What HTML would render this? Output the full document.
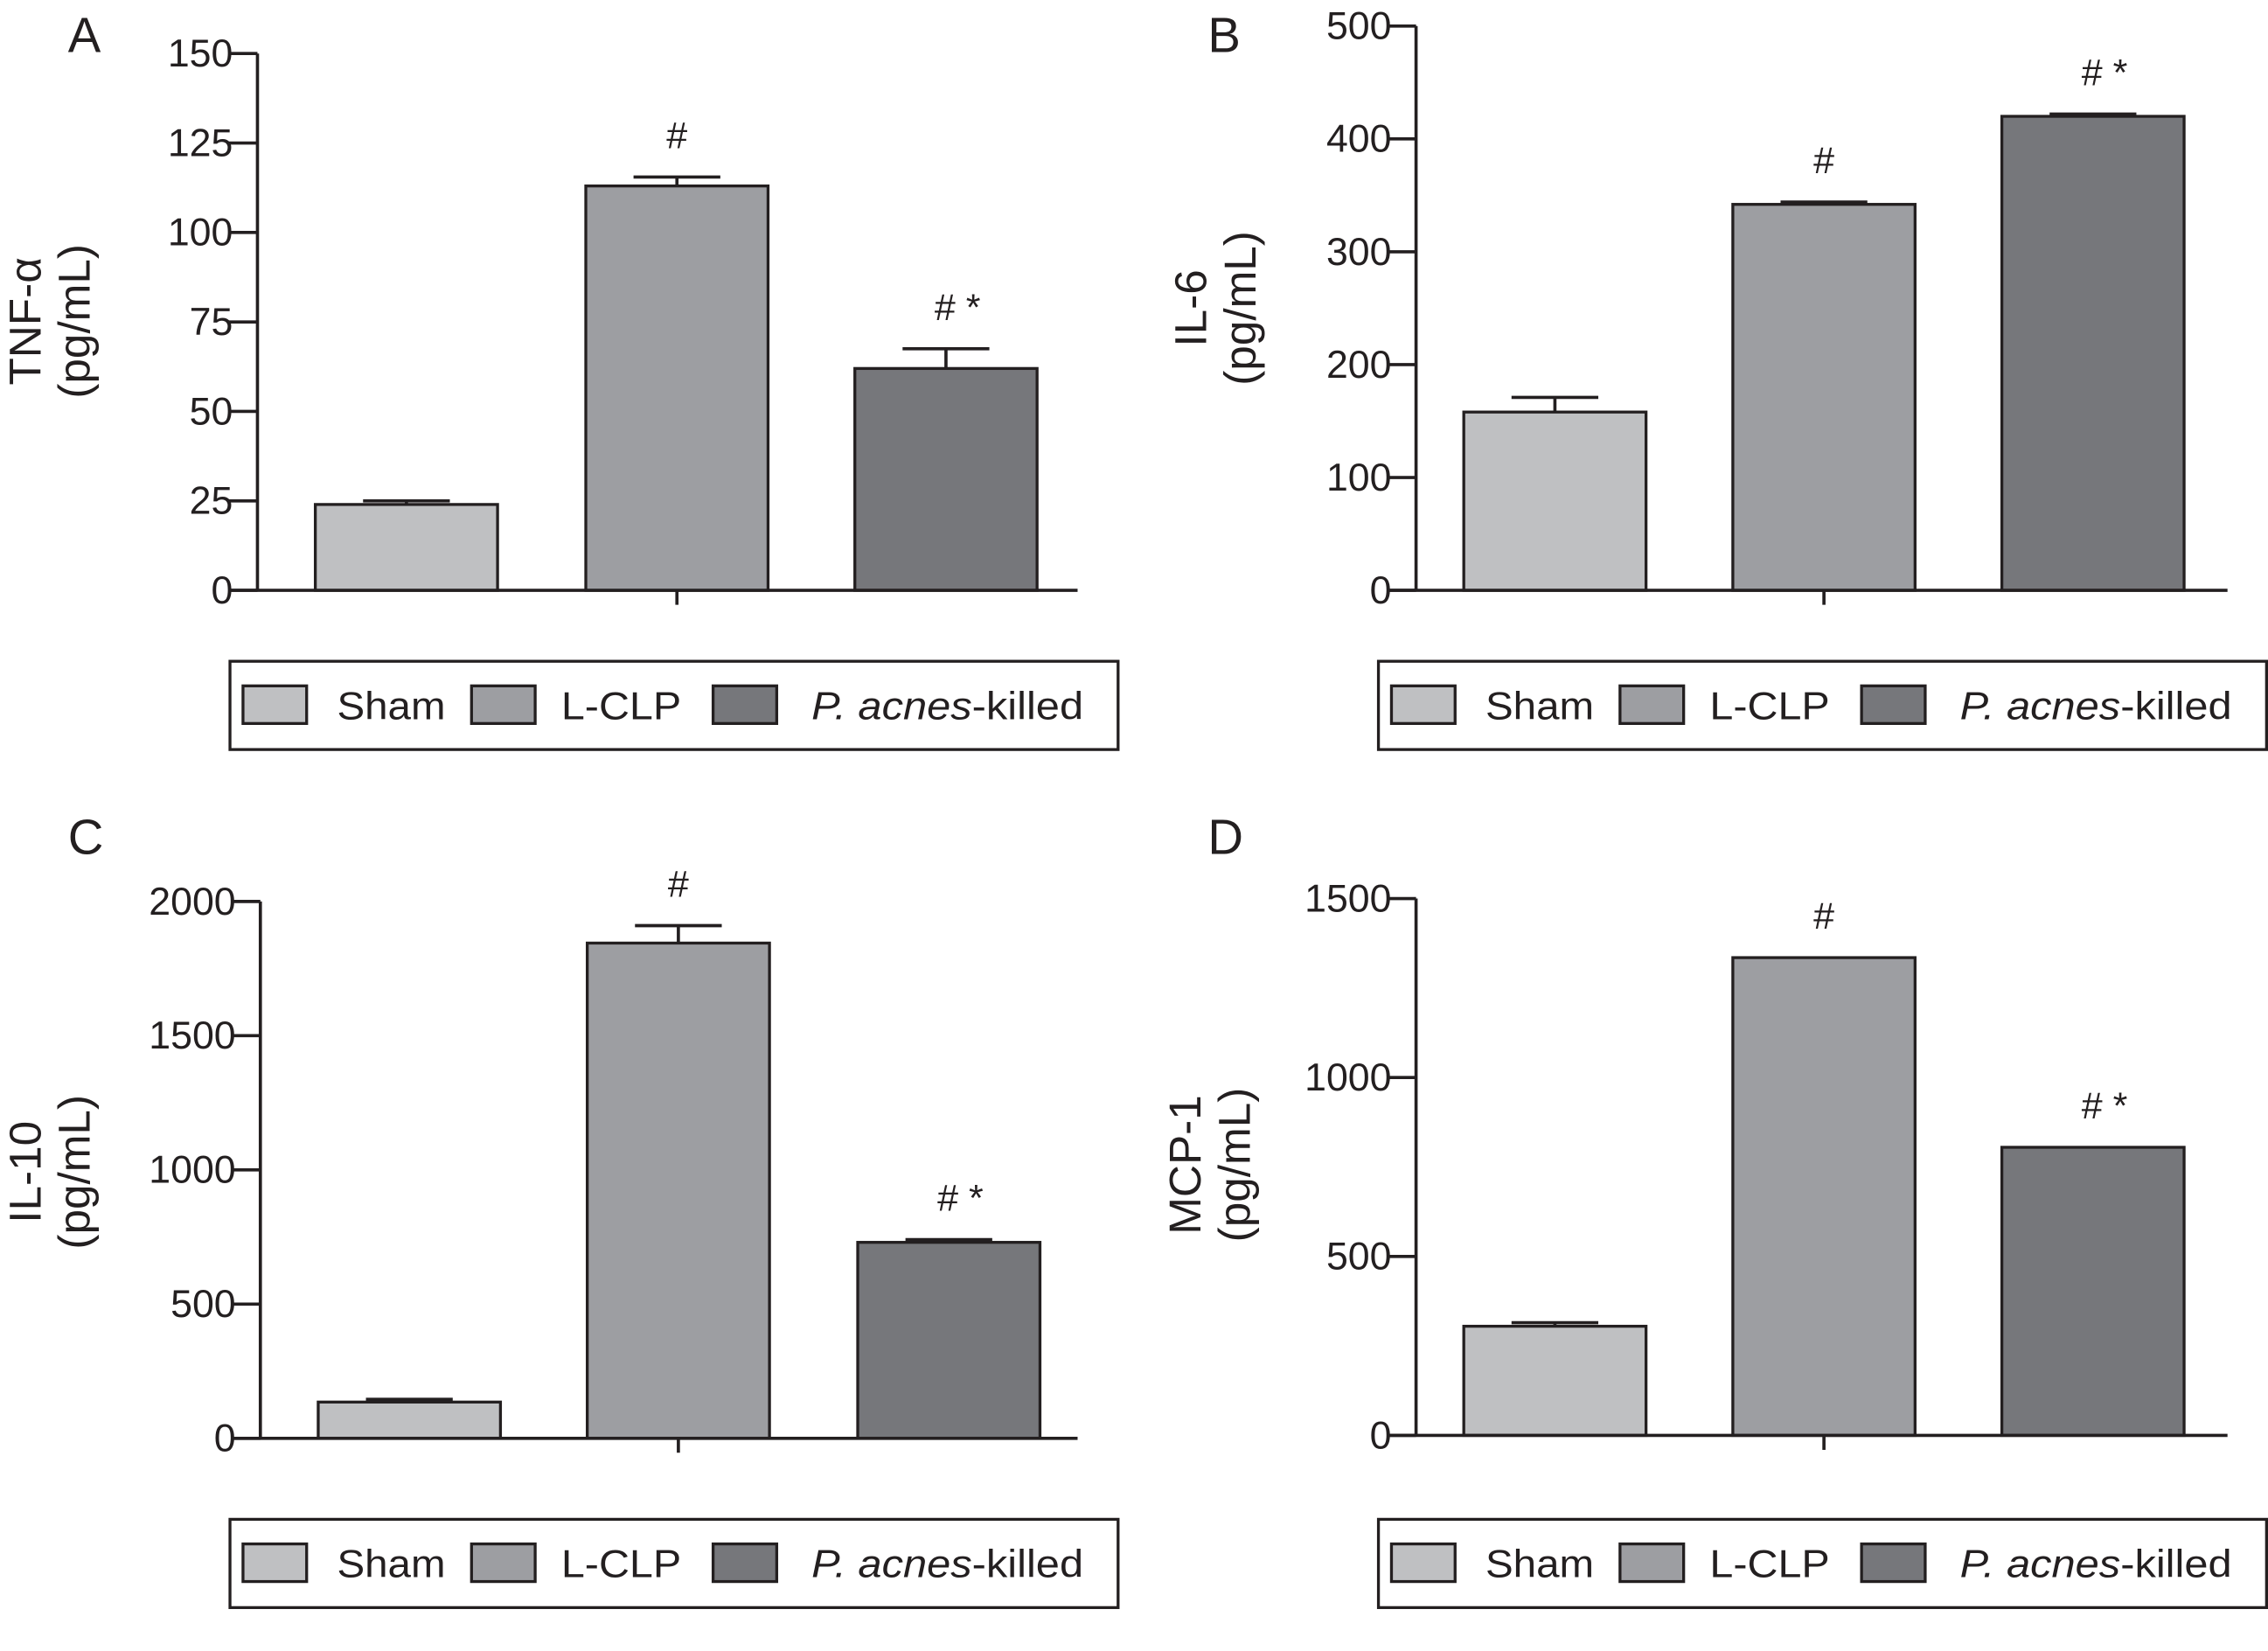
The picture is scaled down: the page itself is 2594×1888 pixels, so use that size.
<!DOCTYPE html>
<html><head><meta charset="utf-8"><style>
html,body{margin:0;padding:0;background:#fff;}
svg{display:block;font-family:"Liberation Sans",sans-serif;}
</style></head><body>
<svg id="fig" width="2594" height="1888" viewBox="0 0 1568 1141" preserveAspectRatio="none" xmlns="http://www.w3.org/2000/svg"></svg>
<script>
const categories = ["Sham", "L-CLP", "P. acnes-killed"];
const colors = ["#bfc0c2", "#9d9ea2", "#76777b"];
const tnfValues = [24, 113, 62];
const tnfErrors = [25, 115.5, 67.5];
const tnfTicks = [0, 25, 50, 75, 100, 125, 150];
const il6Values = [158, 342, 420];
const il6Errors = [171, 344, 422];
const il6Ticks = [0, 100, 200, 300, 400, 500];
const il10Values = [135, 1845, 730];
const il10Errors = [145, 1910, 740];
const il10Ticks = [0, 500, 1000, 1500, 2000];
const mcpValues = [305, 1335, 805];
const mcpErrors = [315, 1335, 805];
const mcpTicks = [0, 500, 1000, 1500];
const marksArr = [["", "#", "# *"], ["", "#", "# *"], ["", "#", "# *"], ["", "#", "# *"]];

const NS = "http://www.w3.org/2000/svg";
const svg = document.getElementById("fig");
function mk(tag, attrs, parent, text) {
  const e = document.createElementNS(NS, tag);
  for (const k in attrs) e.setAttribute(k, attrs[k]);
  if (text !== undefined) e.textContent = text;
  (parent || svg).appendChild(e);
  return e;
}
const panels = [
  {id: "a", letter: "A", lx: 47, ly: 36, ax: 178, top: 37, bot: 408, bx0: 158, bx1: 745, bars: [218, 405, 591], vals: tnfValues, errs: tnfErrors, ticks: tnfTicks, lab1: "TNF-\u03b1", l1x: 28, l2x: 62, labY: 222, leg: [159, 457]},
  {id: "b", letter: "B", lx: 835, ly: 36, ax: 979, top: 18, bot: 408, bx0: 959, bx1: 1540, bars: [1012, 1198, 1384], vals: il6Values, errs: il6Errors, ticks: il6Ticks, lab1: "IL-6", l1x: 834, l2x: 868, labY: 213, leg: [953, 457]},
  {id: "c", letter: "C", lx: 47, ly: 590, ax: 180, top: 623, bot: 994, bx0: 160, bx1: 745, bars: [220, 406, 593], vals: il10Values, errs: il10Errors, ticks: il10Ticks, lab1: "IL-10", l1x: 28, l2x: 62, labY: 810, leg: [159, 1050]},
  {id: "d", letter: "D", lx: 835, ly: 590, ax: 979, top: 621, bot: 992, bx0: 959, bx1: 1540, bars: [1012, 1198, 1384], vals: mcpValues, errs: mcpErrors, ticks: mcpTicks, lab1: "MCP-1", l1x: 830, l2x: 864, labY: 805, leg: [953, 1050]}
];
const BW = 126, K = "#231f20";
panels.forEach((p, pi) => {
  const g = mk("g", {});
  
  
  const maxT = p.ticks[p.ticks.length - 1];
  const y = v => p.bot - (v / maxT) * (p.bot - p.top);
  const lt = mk("text", {x: p.lx, y: p.ly, "font-size": 34, fill: K}, g, p.letter);
  
  
  const yl = mk("text", {transform: `translate(${p.l1x},${p.labY}) rotate(-90)`, "text-anchor": "middle", "font-size": 31, fill: K}, g, p.lab1);
  
  
  const yl2 = mk("text", {transform: `translate(${p.l2x},${p.labY}) rotate(-90)`, "text-anchor": "middle", "font-size": 31, fill: K}, g, "(pg/mL)");
  
  
  p.vals.forEach((v, i) => {
    const x = p.bars[i];
    const ev = p.errs[i];
    if (ev > v) {
      const el = mk("path", {d: `M${x + BW / 2} ${y(v)}V${y(ev)}M${x + BW / 2 - 30} ${y(ev)}H${x + BW / 2 + 30}`, stroke: K, "stroke-width": 2.2, fill: "none"}, g);
      
      
    }
    const r = mk("rect", {x: x, y: y(v), width: BW, height: p.bot - y(v), fill: colors[i], stroke: K, "stroke-width": 2}, g);
    
    
    const m = marksArr[pi][i];
    if (m) {
      const t = mk("text", {x: x + BW / 2 + (m.length > 1 ? 8 : 0), y: y(Math.max(v, ev)) - 20, "text-anchor": "middle", "font-size": 26, fill: K}, g, m);
      
      
    }
  });
  const ya = mk("path", {d: `M${p.ax} ${p.top}V${p.bot}`, stroke: K, "stroke-width": 2.2}, g);
  
  
  const xa = mk("path", {d: `M${p.bx0} ${p.bot}H${p.bx1}M${p.bars[1] + BW / 2} ${p.bot}V${p.bot + 10}`, stroke: K, "stroke-width": 2.2}, g);
  
  
  p.ticks.forEach(t => {
    const tk = mk("path", {d: `M${p.ax - 20} ${y(t)}H${p.ax}`, stroke: K, "stroke-width": 2.2}, g);
    
    
    const tl = mk("text", {x: p.ax - 17, y: y(t) + 9, "text-anchor": "end", "font-size": 27, fill: K}, g, String(t));
    
    
  });
  const [lx, ly] = p.leg;
  const lg = mk("g", {}, g);
  
  
  mk("rect", {x: lx, y: ly, width: 614, height: 61, fill: "#fff", stroke: K, "stroke-width": 2}, lg);
  const sw = [9, 167, 334], tx = [74, 229, 402], tl = [75, 83, 188];
  categories.forEach((c, i) => {
    const e = mk("g", {}, lg);
    
    
    mk("rect", {x: lx + sw[i], y: ly + 17, width: 44, height: 26, fill: colors[i], stroke: K, "stroke-width": 2}, e);
    const t = mk("text", {x: lx + tx[i], y: ly + 40, "font-size": 27, fill: K, textLength: tl[i], lengthAdjust: "spacingAndGlyphs"}, e);
    if (i === 2) {
      mk("tspan", {"font-style": "italic"}, t, "P. acnes");
      mk("tspan", {}, t, "-killed");
    } else t.textContent = c;
  });
});
</script>
</body></html>
